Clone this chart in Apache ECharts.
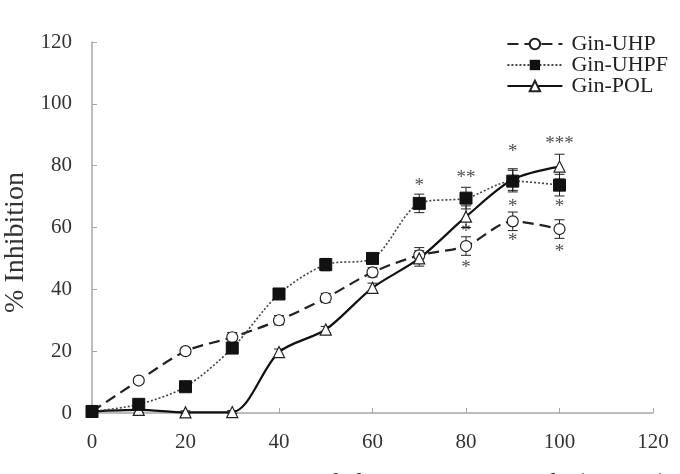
<!DOCTYPE html>
<html>
<head>
<meta charset="utf-8">
<script src="https://cdn.jsdelivr.net/npm/echarts@6/dist/echarts.min.js"></script>
<style>
  html, body { margin: 0; padding: 0; background: #fff; }
  #chart { width: 680px; height: 474px; }
</style>
</head>
<body>
<div id="chart"></div>
<script>
// concentrations (x)
const conc = [0, 10, 20, 30, 40, 50, 60, 70, 80, 90, 100];

// % inhibition per sample
const uhp  = [0.5, 10.5, 20, 24.5, 30, 37.2, 45.5, 51, 54, 62, 59.5];
const uhpf = [0.5, 2.8, 8.5, 21, 38.5, 48, 50, 67.8, 69.5, 75, 73.7];
const pol  = [0.5, 1, 0.2, 0.3, 19.7, 27, 40.5, 50, 63.5, 75.5, 79.7];

// error (+/-)
const uhpErr  = [0.5, 1, 1, 1.5, 1.5, 1.5, 1.5, 2.5, 3, 3, 3];
const uhpfErr = [0.5, 0.8, 1, 1, 1.5, 2, 1.5, 3, 3.5, 3.5, 3.5];
const polErr  = [0.5, 0.8, 0.5, 0.5, 1, 1, 1.5, 2.5, 3.5, 3.5, 4];

// significance marks
const starX    = [70, 80, 80, 80, 90, 90, 90, 100, 100, 100];
const starY    = [73.5, 76, 58.5, 47, 84.5, 66.5, 55.5, 87, 66.5, 52];
const starText = ['*', '**', '*', '*', '*', '*', '*', '***', '*', '*'];

const chart = echarts.init(document.getElementById('chart'));

const serif = '"Liberation Serif", "DejaVu Serif", serif';

function pairs(ys) {
  return conc.map((x, i) => [x, ys[i]]);
}

function errData(ys, es) {
  return conc.map((x, i) => [x, ys[i] - es[i], ys[i] + es[i]]);
}

function errSeries(ys, es) {
  return {
    type: 'custom',
    silent: true,
    z: 3,
    renderItem: (params, api) => {
      const lo = api.coord([api.value(0), api.value(1)]);
      const hi = api.coord([api.value(0), api.value(2)]);
      const w = 5;
      const style = { stroke: '#222', lineWidth: 1 };
      return {
        type: 'group',
        children: [
          { type: 'line', shape: { x1: lo[0], y1: lo[1], x2: hi[0], y2: hi[1] }, style },
          { type: 'line', shape: { x1: lo[0] - w, y1: lo[1], x2: lo[0] + w, y2: lo[1] }, style },
          { type: 'line', shape: { x1: hi[0] - w, y1: hi[1], x2: hi[0] + w, y2: hi[1] }, style }
        ]
      };
    },
    encode: { x: 0, y: [1, 2] },
    data: errData(ys, es)
  };
}

const option = {
  backgroundColor: '#fff',
  animation: false,
  grid: { left: 92, right: 27, top: 42, bottom: 61, outerBoundsMode: 'none', containLabel: false },
  legend: {
    orient: 'vertical',
    right: 7,
    top: 28,
    align: 'left',
    itemWidth: 55,
    itemHeight: 13,
    itemGap: -1,
    data: ['Gin-UHP', 'Gin-UHPF', 'Gin-POL'],
    textStyle: { fontFamily: serif, fontSize: 22, color: '#222', padding: [0, 0, 0, 4] }
  },
  xAxis: {
    type: 'value',
    min: 0,
    max: 120,
    interval: 20,
    name: 'Concentration of chitosan ginsenoside (µg/mL)',
    nameLocation: 'middle',
    nameGap: 58,
    nameTextStyle: { fontFamily: serif, fontSize: 27, color: '#333', padding: [0, 0, 0, 78] },
    axisLine: { lineStyle: { color: '#a6a6a6', width: 1.5 } },
    axisTick: { inside: true, length: 5, lineStyle: { color: '#a6a6a6' } },
    axisLabel: { fontFamily: serif, fontSize: 21, color: '#333', margin: 19 },
    splitLine: { show: false }
  },
  yAxis: {
    type: 'value',
    min: 0,
    max: 120,
    interval: 20,
    name: '% Inhibition',
    nameLocation: 'middle',
    nameGap: 62,
    nameTextStyle: { fontFamily: serif, fontSize: 28, color: '#333', padding: [0, 30, 0, 0] },
    axisLine: { show: true, lineStyle: { color: '#a6a6a6', width: 1.5 } },
    axisTick: { show: true, inside: true, length: 5, lineStyle: { color: '#a6a6a6' } },
    axisLabel: { fontFamily: serif, fontSize: 21, color: '#333', margin: 20 },
    splitLine: { show: false }
  },
  series: [
    {
      name: 'Gin-UHP',
      type: 'line',
      smooth: 0.3,
      z: 4,
      symbol: 'circle',
      symbolSize: 11,
      itemStyle: { color: '#fff', borderColor: '#222', borderWidth: 1.2 },
      lineStyle: { color: '#222', width: 2.2, type: [11, 6] },
      data: pairs(uhp)
    },
    {
      name: 'Gin-UHPF',
      type: 'line',
      smooth: 0.3,
      z: 5,
      symbol: 'rect',
      symbolSize: 12,
      itemStyle: { color: '#111', borderColor: '#111' },
      lineStyle: { color: '#444', width: 1.6, type: [2, 2] },
      data: pairs(uhpf)
    },
    {
      name: 'Gin-POL',
      type: 'line',
      smooth: 0.3,
      z: 4,
      symbol: 'triangle',
      symbolSize: 11,
      itemStyle: { color: '#fff', borderColor: '#222', borderWidth: 1.2 },
      lineStyle: { color: '#111', width: 2.2 },
      data: pairs(pol)
    },
    errSeries(uhp, uhpErr),
    errSeries(uhpf, uhpfErr),
    errSeries(pol, polErr),
    {
      type: 'scatter',
      silent: true,
      symbolSize: 0,
      z: 6,
      label: {
        show: true,
        position: 'inside',
        formatter: (p) => p.data[2],
        fontFamily: serif,
        fontSize: 19,
        color: '#222'
      },
      data: starX.map((x, i) => [x, starY[i], starText[i]])
    }
  ]
};

chart.setOption(option);
</script>
</body>
</html>
